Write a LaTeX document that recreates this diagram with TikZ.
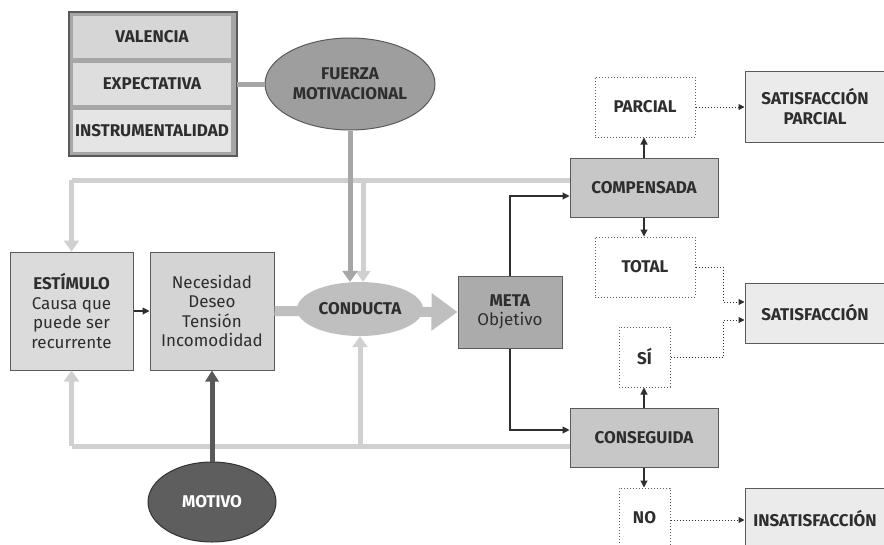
\documentclass[tikz,border=0pt]{standalone}
\usepackage{fontspec}
\setmainfont{Fira Sans}
\usetikzlibrary{arrows.meta,shapes.geometric}
\definecolor{loopgray}{HTML}{D0D0D0}
\definecolor{midgray}{HTML}{A6A6A6}
\definecolor{darkline}{HTML}{2E2E2E}
\definecolor{boxedge}{HTML}{5A5A5A}
\tikzset{
  lbl/.style={font=\fontsize{17}{19.5}\selectfont\bfseries, text=darkline, align=center, inner sep=0pt},
  txt/.style={font=\fontsize{17}{19.5}\selectfont, text=darkline, align=center, inner sep=0pt},
  stackbox/.style={lbl, rectangle, fill=black!13, minimum width=158pt, minimum height=42pt},
  graybox/.style={lbl, rectangle, draw=boxedge, line width=1pt},
  dotbox/.style={lbl, rectangle, draw=boxedge, dotted, line width=1pt},
  resbox/.style={lbl, rectangle, draw=boxedge, line width=1pt, fill=black!8, minimum width=140pt},
  loopline/.style={draw=loopgray, line width=5pt},
  looparrow/.style={loopline, -{Triangle[length=11pt,width=15pt]}},
  blackarrow/.style={draw=darkline, line width=1.1pt, -{Triangle[length=7pt,width=7pt]}},
  dotarrow/.style={draw=darkline, dotted, line width=1pt, -{Triangle[length=6pt,width=6pt]}}
}
\begin{document}
\begin{tikzpicture}[x=1pt,y=-1pt]
\useasboundingbox (0,0) rectangle (884,544);
\fill[white] (0,0) rectangle (884,544);
\begin{scope}
\clip (0,0) rectangle (884,544);
% stack
\draw[fill=midgray, draw=boxedge, line width=1.2pt] (69,12) rectangle (237,156);
\node[stackbox, fill=black!16] (val) at (152,37) {VALENCIA};
\node[stackbox] (exp) at (152,84) {EXPECTATIVA};
\node[stackbox, fill=black!10] (ins) at (152,131) {INSTRUMENTALIDAD};
\coordinate (stack) at (237,84);
% fuerza
\node[lbl, ellipse, fill=black!38, draw=boxedge, line width=1pt, minimum width=170pt, minimum height=92pt] (fuerza) at (350,84) {FUERZA\\MOTIVACIONAL};
% boxes
\node[txt, rectangle, draw=boxedge, line width=1pt, fill=black!14, minimum width=123pt, minimum height=118pt] (est) at (71.5,311) {\textbf{ESTÍMULO}\\Causa que\\puede ser\\recurrente};
\node[txt, rectangle, draw=boxedge, line width=1pt, fill=black!17, minimum width=124pt, minimum height=118pt] (nec) at (212,311) {Necesidad\\Deseo\\Tensión\\Incomodidad};
\node[txt, rectangle, draw=boxedge, line width=1pt, fill=black!33, minimum width=104pt, minimum height=72pt] (meta) at (510,312) {\textbf{META}\\Objetivo};
% main shaft behind conducta
\draw[draw=black!25, line width=10pt, -{Triangle[length=26pt,width=36pt]}] (nec.east) -- (meta.west);
\node[lbl, ellipse, fill=black!25, minimum width=126pt, minimum height=54pt] (cond) at (360,309) {CONDUCTA};
\node[graybox, fill=black!22, minimum width=148pt, minimum height=59pt] (comp) at (644,187.5) {COMPENSADA};
\node[graybox, fill=black!22, minimum width=148pt, minimum height=59pt] (cons) at (644,437.5) {CONSEGUIDA};
\node[dotbox, minimum width=100pt, minimum height=60pt] (parc) at (645,107) {PARCIAL};
\node[dotbox, minimum width=100pt, minimum height=60pt] (tot) at (645,267) {TOTAL};
\node[dotbox, minimum width=51pt, minimum height=60pt] (si) at (644.5,357) {SÍ};
\node[dotbox, minimum width=51pt, minimum height=60pt] (no) at (644.5,518) {NO};
\node[resbox, minimum height=71pt] (satp) at (815,106.5) {SATISFACCIÓN\\PARCIAL};
\node[resbox, minimum height=60pt] (sat) at (815,313) {SATISFACCIÓN};
\node[resbox, minimum height=62pt] (insat) at (815,519) {INSATISFACCIÓN};
\node[lbl, ellipse, text=white, fill=black!63, draw=black!80, line width=1pt, minimum width=128pt, minimum height=80pt] (mot) at (212,502) {MOTIVO};
% connectors
\draw[draw=midgray, line width=5pt] (stack) -- (fuerza.west);
\coordinate (topy) at (0,180);
\coordinate (boty) at (0,446);
\coordinate (j1) at (363,180);
\coordinate (j2) at (360,446);
\draw[loopline] ([yshift=7.5pt]comp.west) -- (est.north |- topy);
\draw[looparrow] (est.north |- topy) -- (est.north);
\draw[looparrow] (j1) -- (j1 |- cond.north);
\draw[draw=midgray, line width=5pt, -{Triangle[length=11pt,width=15pt]}] (fuerza.south) -- (fuerza.south |- cond.north);
\draw[loopline] ([yshift=-8.5pt]cons.west) -- (est.south |- boty);
\draw[looparrow] (est.south |- boty) -- (est.south);
\draw[looparrow] (j2) -- (cond.south);
\draw[draw=black!65, line width=5pt, -{Triangle[length=11pt,width=13pt]}] (mot.north) -- (nec.south);
\draw[blackarrow] (est.east) -- (nec.west);
\draw[blackarrow] (meta.north) |- ([yshift=-8.5pt]comp.west);
\draw[blackarrow] (meta.south) |- ([yshift=7.5pt]cons.west);
\draw[blackarrow] (comp.north) -- (comp.north |- parc.south);
\draw[blackarrow] (comp.south) -- (comp.south |- tot.north);
\draw[blackarrow] (cons.north) -- (cons.north |- si.south);
\draw[blackarrow] (cons.south) -- (cons.south |- no.north);
\draw[dotarrow] (parc.east) -- (parc.east -| satp.west);
\draw[dotarrow] (tot.east) -| (723,302) -- ([yshift=11pt]sat.west);
\draw[dotarrow] (si.east) -| (723,320) -- ([yshift=-7pt]sat.west);
\draw[dotarrow] (no.east |- 0,520) -- (insat.west |- 0,520);
\end{scope}
\end{tikzpicture}
\end{document}
